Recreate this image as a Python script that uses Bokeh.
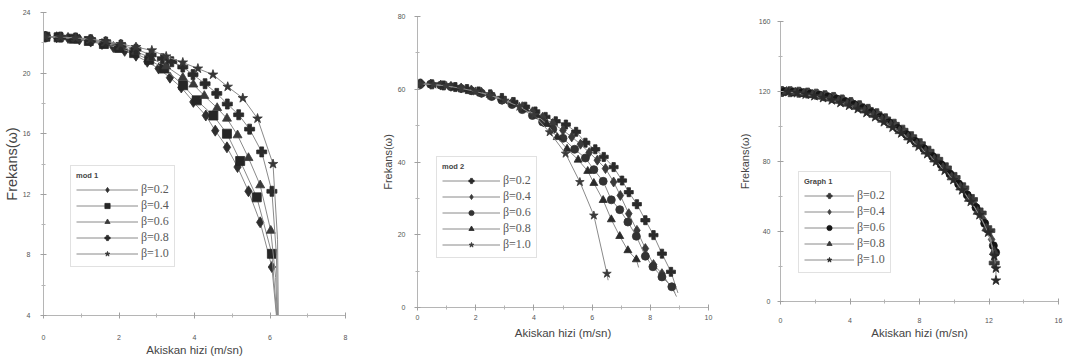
from bokeh.plotting import figure
from bokeh.layouts import row, column
from bokeh.models import Legend, LegendItem, FixedTicker, Range1d
from bokeh.embed import file_html
from bokeh.resources import INLINE

# ---------------- Panel 1: mod 1 ----------------
m1_labels = ["β=0.2", "β=0.4", "β=0.6", "β=0.8", "β=1.0"]
m1_b02_x = [0.05, 0.35, 0.65, 0.95, 1.25, 1.55, 1.85, 2.15, 2.45, 2.75, 3.05, 3.35, 3.65, 3.97, 4.3, 4.55, 4.86, 5.14, 5.43, 5.74, 6.05]
m1_b02_y = [22.4, 22.37, 22.32, 22.22, 22.08, 21.92, 21.72, 21.47, 21.15, 20.75, 20.3, 19.7, 19.05, 18.1, 17.2, 16.2, 15.1, 13.8, 12.2, 10.15, 7.2]
m1_b02_tx = [6.05, 6.17]
m1_b02_ty = [7.2, 4.0]
m1_b04_x = [0.05, 0.4, 0.8, 1.2, 1.6, 2.0, 2.4, 2.8, 3.2, 3.7, 4.06, 4.5, 4.86, 5.21, 5.65, 6.05]
m1_b04_y = [22.4, 22.36, 22.27, 22.12, 21.92, 21.66, 21.32, 20.88, 20.3, 19.2, 18.2, 17.2, 16.0, 14.2, 11.8, 8.07]
m1_b04_tx = [6.05, 6.18]
m1_b04_ty = [8.07, 4.0]
m1_b06_x = [0.05, 0.45, 0.85, 1.25, 1.65, 2.05, 2.45, 2.85, 3.25, 3.69, 3.97, 4.26, 4.6, 4.86, 5.14, 5.43, 5.74, 6.02]
m1_b06_y = [22.4, 22.37, 22.3, 22.16, 21.98, 21.74, 21.42, 21.0, 20.45, 19.7, 19.25, 18.5, 17.7, 17.0, 15.9, 14.4, 12.6, 9.6]
m1_b06_tx = [6.02, 6.15, 6.19]
m1_b06_ty = [9.6, 6.5, 4.0]
m1_b08_x = [0.05, 0.45, 0.85, 1.25, 1.65, 2.05, 2.45, 2.85, 3.15, 3.4, 3.69, 3.96, 4.28, 4.59, 4.87, 5.17, 5.46, 5.78, 6.05]
m1_b08_y = [22.4, 22.38, 22.32, 22.2, 22.05, 21.85, 21.58, 21.2, 20.95, 20.75, 20.4, 19.9, 19.3, 18.66, 17.96, 17.25, 16.3, 14.8, 12.2]
m1_b08_tx = [6.05, 6.17, 6.2]
m1_b08_ty = [12.2, 8.0, 4.0]
m1_b10_x = [0.05, 0.45, 0.85, 1.25, 1.65, 2.05, 2.45, 2.87, 3.25, 3.69, 4.09, 4.49, 4.88, 5.28, 5.67, 6.08]
m1_b10_y = [22.4, 22.38, 22.33, 22.24, 22.1, 21.92, 21.72, 21.5, 21.1, 20.7, 20.3, 19.9, 19.1, 18.35, 17.0, 14.0]
m1_b10_tx = [6.08, 6.2, 6.22]
m1_b10_ty = [14.0, 9.0, 4.0]
m1_xticks = [0, 2, 4, 6, 8]
m1_xminor = [1, 3, 5, 7]
m1_yticks = [4, 8, 12, 16, 20, 24]
m1_yminor = [6, 10, 14, 18, 22]

# ---------------- Panel 2: mod 2 ----------------
m2_labels = ["β=0.2", "β=0.4", "β=0.6", "β=0.8", "β=1.0"]
m2_b02_x = [0.1, 0.5, 0.9, 1.3, 1.7, 2.1, 2.5, 2.9, 3.3, 3.7, 4.05, 4.4, 4.75, 5.1, 5.45, 5.77, 6.11, 6.4, 6.74, 7.03, 7.26, 7.54, 7.83, 8.11, 8.4, 8.71]
m2_b02_y = [61.5, 61.35, 61.05, 60.6, 60.05, 59.4, 58.6, 57.6, 56.5, 55.2, 53.9, 52.4, 51.2, 50.3, 48.3, 45.3, 43.5, 41.4, 38.6, 34.9, 31.7, 28.4, 24.0, 19.9, 14.8, 9.8]
m2_b02_tx = [8.71, 8.95]
m2_b02_ty = [9.8, 4.0]
m2_b04_x = [0.1, 0.45, 0.8, 1.15, 1.5, 1.85, 2.2, 2.55, 2.9, 3.25, 3.6, 3.95, 4.3, 4.65, 5.0, 5.3, 5.6, 5.9, 6.18, 6.46, 6.74, 6.97, 7.26, 7.54, 7.83, 8.11, 8.4]
m2_b04_y = [61.5, 61.4, 61.15, 60.8, 60.35, 59.8, 59.15, 58.35, 57.45, 56.4, 55.2, 53.8, 52.3, 50.6, 48.7, 46.9, 44.9, 42.6, 40.5, 38.2, 34.5, 30.8, 25.8, 21.2, 16.2, 11.8, 9.3]
m2_b04_tx = [8.4, 8.85]
m2_b04_ty = [9.3, 4.0]
m2_b06_x = [0.1, 0.45, 0.8, 1.15, 1.5, 1.85, 2.2, 2.55, 2.9, 3.25, 3.6, 3.95, 4.3, 4.65, 5.0, 5.4, 5.77, 6.06, 6.38, 6.66, 6.95, 7.23, 7.52, 7.83, 8.09, 8.4, 8.74]
m2_b06_y = [61.5, 61.4, 61.1, 60.7, 60.2, 59.6, 58.9, 58.0, 57.0, 55.8, 54.4, 52.8, 51.0, 49.0, 46.5, 43.5, 41.1, 37.9, 34.7, 29.6, 26.9, 23.5, 19.6, 14.1, 11.2, 8.4, 5.7]
m2_b06_tx = [8.74, 8.9]
m2_b06_ty = [5.7, 3.0]
m2_b08_x = [0.1, 0.5, 0.9, 1.3, 1.7, 2.1, 2.5, 2.9, 3.3, 3.7, 4.1, 4.45, 4.8, 5.14, 5.52, 5.85, 6.06, 6.38, 6.66, 6.95, 7.23, 7.52]
m2_b08_y = [61.5, 61.3, 61.0, 60.5, 59.95, 59.25, 58.4, 57.35, 56.1, 54.6, 52.8, 50.4, 46.8, 43.6, 40.6, 37.5, 34.2, 29.5, 24.2, 19.6, 15.7, 13.2]
m2_b08_tx = [7.52, 7.6]
m2_b08_ty = [13.2, 11.0]
m2_b10_x = [0.1, 0.55, 1.0, 1.5, 2.0, 2.5, 3.0, 3.5, 4.0, 4.54, 5.09, 5.58, 6.06, 6.51]
m2_b10_y = [61.5, 61.3, 60.9, 60.25, 59.4, 58.3, 56.9, 55.2, 52.9, 48.2, 42.3, 34.5, 25.3, 9.3]
m2_b10_tx = [6.51, 6.55]
m2_b10_ty = [9.3, 7.5]
m2_xticks = [0, 2, 4, 6, 8, 10]
m2_xminor = [1, 3, 5, 7, 9]
m2_yticks = [0, 20, 40, 60, 80]
m2_yminor = [10, 30, 50, 70]

# ---------------- Panel 3: Graph 1 ----------------
g1_labels = ["β=0.2", "β=0.4", "β=0.6", "β=0.8", "β=1.0"]
g1_b02_x = [0.05, 0.55, 1.05, 1.55, 2.05, 2.55, 3.05, 3.55, 4.05, 4.55, 5.05, 5.55, 6.05, 6.55, 7.05, 7.55, 8.05, 8.55, 9.05, 9.55, 10.05, 10.55, 11.05, 11.55, 12.05, 12.3]
g1_b02_y = [120.0, 119.9, 119.6, 119.1, 118.5, 117.6, 116.6, 115.2, 113.7, 111.9, 109.8, 107.3, 104.4, 101.3, 97.9, 94.2, 90.2, 85.9, 81.3, 76.4, 70.9, 65.0, 58.3, 50.6, 40.5, 22.0]
g1_b04_x = [0.15, 0.65, 1.15, 1.65, 2.15, 2.65, 3.15, 3.65, 4.15, 4.65, 5.15, 5.65, 6.15, 6.65, 7.15, 7.65, 8.15, 8.65, 9.15, 9.65, 10.15, 10.65, 11.15, 11.65, 12.15, 12.35]
g1_b04_y = [120.0, 119.9, 119.7, 119.2, 118.5, 117.6, 116.5, 115.0, 113.3, 111.3, 109.0, 106.3, 103.3, 100.1, 96.6, 92.8, 88.7, 84.3, 79.6, 74.5, 68.9, 62.7, 55.7, 47.2, 35.5, 29.0]
g1_b06_x = [0.25, 0.75, 1.25, 1.75, 2.25, 2.75, 3.25, 3.75, 4.25, 4.75, 5.25, 5.75, 6.25, 6.75, 7.25, 7.75, 8.25, 8.75, 9.25, 9.75, 10.25, 10.75, 11.25, 11.75, 12.25, 12.38]
g1_b06_y = [120.0, 119.75, 119.35, 118.75, 117.95, 116.95, 115.7, 114.2, 112.45, 110.4, 108.0, 105.25, 102.2, 98.9, 95.35, 91.5, 87.35, 82.9, 78.1, 72.9, 67.2, 60.85, 53.65, 44.65, 31.9, 28.0]
g1_b08_x = [0.35, 0.85, 1.35, 1.85, 2.35, 2.85, 3.35, 3.85, 4.35, 4.85, 5.35, 5.85, 6.35, 6.85, 7.35, 7.85, 8.35, 8.85, 9.35, 9.85, 10.35, 10.85, 11.35, 11.85, 12.3]
g1_b08_y = [119.9, 119.5, 119.0, 118.2, 117.2, 116.1, 114.7, 113.1, 111.3, 109.2, 106.7, 103.9, 100.8, 97.4, 93.8, 89.9, 85.7, 81.2, 76.3, 71.0, 65.2, 58.7, 51.3, 41.8, 28.5]
g1_b10_x = [0.45, 0.95, 1.45, 1.95, 2.45, 2.95, 3.45, 3.95, 4.45, 4.95, 5.45, 5.95, 6.45, 6.95, 7.45, 7.95, 8.45, 8.95, 9.45, 9.95, 10.45, 10.95, 11.45, 11.95, 12.3, 12.4, 12.4]
g1_b10_y = [119.8, 119.1, 118.3, 117.4, 116.3, 115.0, 113.5, 111.9, 110.0, 107.8, 105.4, 102.5, 99.4, 96.1, 92.5, 88.6, 84.3, 79.8, 74.8, 69.5, 63.6, 57.0, 49.4, 39.4, 26.0, 18.9, 12.0]
g1_xticks = [0, 4, 8, 12, 16]
g1_xminor = [2, 6, 10, 14]
g1_yticks = [0, 40, 80, 120, 160]
g1_yminor = [20, 60, 100, 140]

FONT = "Liberation Sans"
SERIF = "Liberation Serif"
LINE_COL = "#8a8a8a"
HEIGHT = 358


def make_fig(width, left, right, top, bottom, xr, yr, xt, xm, yt, ym,
             xstand, xlstand, ystand, ylstand, ytitle_size):
    p = figure(width=width, height=HEIGHT, output_backend="svg", toolbar_location=None,
               x_range=Range1d(*xr), y_range=Range1d(*yr),
               min_border_left=left, min_border_right=right,
               min_border_top=top, min_border_bottom=bottom)
    p.grid.visible = False
    p.outline_line_color = None
    p.background_fill_color = "white"
    p.border_fill_color = "white"
    p.xaxis.ticker = FixedTicker(ticks=xt, minor_ticks=xm)
    p.yaxis.ticker = FixedTicker(ticks=yt, minor_ticks=ym)
    for ax in (p.xaxis[0], p.yaxis[0]):
        ax.axis_line_color = "#b5b5b5"
        ax.axis_line_width = 1
        ax.major_tick_line_color = "#a0a0a0"
        ax.minor_tick_line_color = "#b5b5b5"
        ax.major_tick_in = 3
        ax.major_tick_out = 3
        ax.minor_tick_in = 2
        ax.minor_tick_out = 2
        ax.major_label_text_font = FONT
        ax.major_label_text_font_size = "7px"
        ax.major_label_text_color = "#555555"
        ax.axis_label_text_font = FONT
        ax.axis_label_text_font_style = "normal"
        ax.axis_label_text_color = "#454545"
    p.xaxis.axis_label = "Akiskan hizi (m/sn)"
    p.xaxis.axis_label_text_font_size = "11.5px"
    p.yaxis.axis_label = "Frekans(ω)"
    p.yaxis.axis_label_text_font_size = ytitle_size
    p.xaxis.major_label_standoff = xstand
    p.xaxis.axis_label_standoff = xlstand
    p.yaxis.major_label_standoff = ystand
    p.yaxis.axis_label_standoff = ylstand
    return p


def add_series(p, xs, ys, tx, ty, marker, size, color):
    if tx is not None:
        p.line(tx, ty, line_color=LINE_COL, line_width=1)
    lr = p.line(xs, ys, line_color=LINE_COL, line_width=1)
    sr = p.scatter(xs, ys, marker=marker, size=size, fill_color=color,
                   line_color=color, line_width=0.8)
    return [lr, sr]


def add_legend(p, title, labels, rends, loc, glyph_w):
    items = [LegendItem(label=lab, renderers=r) for lab, r in zip(labels, rends)]
    lg = Legend(items=items, location=loc, title=title)
    lg.title_text_font = FONT
    lg.title_text_font_size = "7.5px"
    lg.title_text_font_style = "bold"
    lg.title_text_color = "#444444"
    lg.title_standoff = 2
    lg.label_text_font = SERIF
    lg.label_text_font_size = "12px"
    lg.label_text_color = "#5a5a5a"
    lg.glyph_width = glyph_w
    lg.glyph_height = 13
    lg.label_height = 13
    lg.label_standoff = 3
    lg.spacing = 1
    lg.padding = 5
    lg.margin = 0
    lg.border_line_color = "#c4c4c4"
    lg.border_line_width = 1
    lg.background_fill_color = "white"
    lg.background_fill_alpha = 1.0
    p.add_layout(lg)


# Panel 1: frame x 43..345, y 12..315
p1 = make_fig(358, 43, 13, 12, 43, (0, 8), (4, 24),
              m1_xticks, m1_xminor, m1_yticks, m1_yminor, 16, 1, 10, 0, "14.5px")
r1 = [
    add_series(p1, m1_b02_x, m1_b02_y, m1_b02_tx, m1_b02_ty, "diamond", 11, "#2e2e2e"),
    add_series(p1, m1_b04_x, m1_b04_y, m1_b04_tx, m1_b04_ty, "square", 9, "#262626"),
    add_series(p1, m1_b06_x, m1_b06_y, m1_b06_tx, m1_b06_ty, "triangle", 9, "#3a3a3a"),
    add_series(p1, m1_b08_x, m1_b08_y, m1_b08_tx, m1_b08_ty, "plus", 10, "#2a2a2a"),
    add_series(p1, m1_b10_x, m1_b10_y, m1_b10_tx, m1_b10_ty, "star", 10, "#363636"),
]
add_legend(p1, "mod 1", m1_labels, r1, (27, 48), 62)

# Panel 2: frame x 417..708, y 16..307
p2 = make_fig(356, 59, 6, 16, 51, (0, 10), (0, 80),
              m2_xticks, m2_xminor, m2_yticks, m2_yminor, 4, 4, 9, 1, "11px")
r2 = [
    add_series(p2, m2_b02_x, m2_b02_y, m2_b02_tx, m2_b02_ty, "plus", 9, "#2a2a2a"),
    add_series(p2, m2_b04_x, m2_b04_y, m2_b04_tx, m2_b04_ty, "diamond", 10, "#3a3a3a"),
    add_series(p2, m2_b06_x, m2_b06_y, m2_b06_tx, m2_b06_ty, "circle", 8, "#333333"),
    add_series(p2, m2_b08_x, m2_b08_y, m2_b08_tx, m2_b08_ty, "triangle", 8, "#2a2a2a"),
    add_series(p2, m2_b10_x, m2_b10_y, m2_b10_tx, m2_b10_ty, "star", 9, "#3a3a3a"),
]
add_legend(p2, "mod 2", m2_labels, r2, (19, 49), 58)

# Panel 3: frame x 780..1058, y 21..301
p3 = make_fig(350, 66, 6, 21, 57, (0, 16), (0, 160),
              g1_xticks, g1_xminor, g1_yticks, g1_yminor, 13, 1, 7, 5, "11px")
r3 = [
    add_series(p3, g1_b02_x, g1_b02_y, None, None, "plus", 10, "#3a3a3a"),
    add_series(p3, g1_b04_x, g1_b04_y, None, None, "diamond", 10, "#444444"),
    add_series(p3, g1_b06_x, g1_b06_y, None, None, "circle", 8, "#151515"),
    add_series(p3, g1_b08_x, g1_b08_y, None, None, "triangle", 9, "#3a3a3a"),
    add_series(p3, g1_b10_x, g1_b10_y, None, None, "star", 10, "#2a2a2a"),
]
add_legend(p3, "Graph 1", g1_labels, r3, (18, 28), 50)

layout = row(column(p1), column(p2), column(p3))
open("out.html", "w").write(file_html(layout, INLINE))
